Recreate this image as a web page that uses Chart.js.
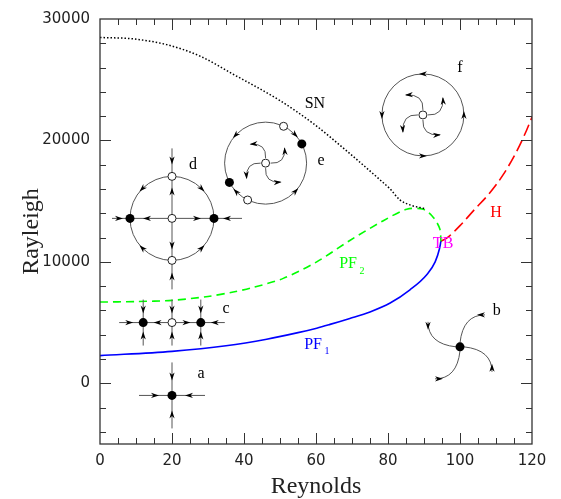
<!DOCTYPE html>
<html>
<head>
<meta charset="utf-8">
<script src="https://cdn.jsdelivr.net/npm/chart.js@4"></script>
<style>
html, body { margin: 0; padding: 0; background: #fff; }
</style>
</head>
<body>
<canvas id="chartAku" width="561" height="499"></canvas>
<script>
// kurva bifurkasi (Re, Ra)
let snRe = [0, 9.3, 18.5, 27.8, 37, 50, 59.2, 68.5, 77.8, 80.6, 83.3, 86.1, 88.9, 90.3];
let snRa = [28480, 28360, 27890, 26940, 25450, 23280, 21400, 19140, 16750, 16000, 15100, 14690, 14470, 14380];

let pf2Re = [0, 10, 20, 30, 37, 41.7, 50.9, 60.2, 69.4, 78.7, 85.2, 89.8, 92.6, 94.4, 94.7];
let pf2Ra = [6690, 6730, 6830, 7150, 7520, 7830, 8640, 10000, 11760, 13390, 14330, 14330, 13660, 12710, 11700];

let pf1Re = [0, 20, 35, 46.3, 55, 60.2, 63.9, 69.4, 75, 80.6, 86.1, 90.7, 93.1, 94.3, 94.7];
let pf1Ra = [2280, 2630, 3090, 3630, 4170, 4540, 4850, 5340, 5880, 6610, 7700, 8920, 10000, 11080, 11700];

let hRe = [94.7, 96.3, 100, 103.7, 108.3, 112, 115.7, 118.5, 120];
let hRa = [11700, 11950, 12980, 14200, 15690, 17180, 19080, 20840, 21930];

let xTicks = [0, 20, 40, 60, 80, 100, 120];
let yTicks = [0, 10000, 20000, 30000];

function pts(xs, ys) {
    return xs.map(function(x, i){ return {x: x, y: ys[i]}; });
}

// tulisan di dalam grafik
let tulisan = [
    {t: 'SN', re: 59.7, ra: 23010, c: '#000'},
    {t: 'H', re: 110, ra: 14070, c: '#ff0000'},
    {t: 'TB', re: 95.3, ra: 11460, c: '#ff00ff'},
    {t: 'a', re: 28.1, ra: 810, c: '#000'},
    {t: 'b', re: 110.2, ra: 5935, c: '#000'},
    {t: 'c', re: 35, ra: 6100, c: '#000'},
    {t: 'd', re: 25.8, ra: 17970, c: '#000'},
    {t: 'e', re: 61.4, ra: 18290, c: '#000'},
    {t: 'f', re: 100, ra: 26000, c: '#000'}
];
let subLabel = [
    {t: 'PF', s: '2', re: 68.9, ra: 9800, c: '#00ff00'},
    {t: 'PF', s: '1', re: 59.2, ra: 3170, c: '#0000ff'}
];

function garis(ctx, x1, y1, x2, y2) {
    ctx.beginPath(); ctx.moveTo(x1, y1); ctx.lineTo(x2, y2); ctx.stroke();
}
function panah(ctx, x, y, ang) {
    // x,y = tengah panah
    let L = 8, W = 2.6, c = Math.cos(ang), s = Math.sin(ang);
    let tx = x + c * L / 2, ty = y + s * L / 2;
    ctx.beginPath();
    ctx.moveTo(tx, ty);
    ctx.lineTo(tx - L * c - W * s, ty - L * s + W * c);
    ctx.lineTo(tx - L * c * 0.7, ty - L * s * 0.7);
    ctx.lineTo(tx - L * c + W * s, ty - L * s - W * c);
    ctx.closePath();
    ctx.fill();
}
function titik(ctx, x, y, penuh) {
    ctx.beginPath();
    if (penuh) {
        ctx.arc(x, y, 4.5, 0, Math.PI * 2);
        ctx.fillStyle = '#000'; ctx.fill();
    } else {
        ctx.arc(x, y, 4, 0, Math.PI * 2);
        ctx.fillStyle = '#fff'; ctx.fill();
        ctx.strokeStyle = '#222'; ctx.lineWidth = 1; ctx.stroke();
    }
    ctx.fillStyle = '#000';
}
function lingkaran(ctx, x, y, r) {
    ctx.beginPath(); ctx.arc(x, y, r, 0, Math.PI * 2); ctx.stroke();
}
function panahBusur(ctx, cx, cy, r, deg, dir) {
    let th = deg * Math.PI / 180;
    panah(ctx, cx + r * Math.cos(th), cy + r * Math.sin(th), th + dir * Math.PI / 2);
}
function putar(p, k) {
    let x = p[0], y = p[1];
    for (let i = 0; i < k; i++) { let t = x; x = -y; y = t; }
    return [x, y];
}
function lengan(ctx, cx, cy, bentuk, keluar) {
    for (let k = 0; k < 4; k++) {
        let p0 = putar(bentuk[0], k), p1 = putar(bentuk[1], k), p2 = putar(bentuk[2], k);
        ctx.beginPath();
        ctx.moveTo(cx + p0[0], cy + p0[1]);
        ctx.quadraticCurveTo(cx + p1[0], cy + p1[1], cx + p2[0], cy + p2[1]);
        ctx.stroke();
        let ang = Math.atan2(p2[1] - p1[1], p2[0] - p1[0]);
        if (keluar) {
            panah(ctx, cx + p2[0] - 3 * Math.cos(ang), cy + p2[1] - 3 * Math.sin(ang), ang);
        } else {
            panah(ctx, cx + p2[0] - 4 * Math.cos(ang), cy + p2[1] - 4 * Math.sin(ang), ang + Math.PI);
        }
    }
}

let sketsa = {
    id: 'sketsa',
    afterDatasetsDraw: function(chart) {
        let ctx = chart.ctx, xs = chart.scales.x, ys = chart.scales.y;
        let px = function(re){ return xs.getPixelForValue(re); };
        let py = function(ra){ return ys.getPixelForValue(ra); };
        let P = Math.PI;
        ctx.save();
        ctx.strokeStyle = '#555'; ctx.fillStyle = '#000'; ctx.lineWidth = 1;

        // a
        let ax = px(20), ay = py(-1000);
        garis(ctx, ax - 33, ay, ax + 33, ay); garis(ctx, ax, ay - 33, ax, ay + 33);
        panah(ctx, ax - 17, ay, 0); panah(ctx, ax + 17, ay, P);
        panah(ctx, ax, ay - 19, P / 2); panah(ctx, ax, ay + 19, -P / 2);
        titik(ctx, ax, ay, true);

        // c
        let cy = py(5000), c1 = px(12), c2 = px(20), c3 = px(28);
        ctx.strokeStyle = '#555';
        garis(ctx, c1 - 24, cy, c3 + 24, cy);
        [c1, c2, c3].forEach(function(x){
            garis(ctx, x, cy - 23, x, cy + 23);
            panah(ctx, x, cy - 13, P / 2); panah(ctx, x, cy + 13, -P / 2);
        });
        panah(ctx, (c1 + c2) / 2, cy, P); panah(ctx, (c2 + c3) / 2, cy, 0);
        panah(ctx, c1 - 14, cy, 0); panah(ctx, c3 + 14, cy, P);
        titik(ctx, c1, cy, true); titik(ctx, c2, cy, false); titik(ctx, c3, cy, true);

        // d
        let dx = px(20), dy = py(13580), R = 42;
        ctx.strokeStyle = '#555';
        lingkaran(ctx, dx, dy, R);
        garis(ctx, dx - 60, dy, dx + 70, dy); garis(ctx, dx, dy - 70, dx, dy + 71);
        panah(ctx, dx - 25, dy, P); panah(ctx, dx + 25, dy, 0);
        panah(ctx, dx - 53, dy, 0); panah(ctx, dx + 55, dy, P);
        panah(ctx, dx, dy - 58, P / 2); panah(ctx, dx, dy - 27, -P / 2);
        panah(ctx, dx, dy + 27, P / 2); panah(ctx, dx, dy + 58, -P / 2);
        panahBusur(ctx, dx, dy, R, -135, -1); panahBusur(ctx, dx, dy, R, -45, 1);
        panahBusur(ctx, dx, dy, R, 45, -1); panahBusur(ctx, dx, dy, R, 135, 1);
        titik(ctx, dx, dy, false); titik(ctx, dx, dy - R, false); titik(ctx, dx, dy + R, false);
        titik(ctx, dx - R, dy, true); titik(ctx, dx + R, dy, true);

        // e
        let ex = px(46), ey = py(18130), Re = 41;
        ctx.strokeStyle = '#555';
        lingkaran(ctx, ex, ey, Re);
        panahBusur(ctx, ex, ey, Re, -44, 1); panahBusur(ctx, ex, ey, Re, 136, 1);
        panahBusur(ctx, ex, ey, Re, -137, -1); panahBusur(ctx, ex, ey, Re, 43, -1);
        lengan(ctx, ex, ey, [[0, -5], [1, -20], [-15, -19]], true);
        [[-64, false], [116, false], [-28, true], [152, true]].forEach(function(q){
            let th = q[0] * P / 180;
            ctx.strokeStyle = '#555';
            titik(ctx, ex + Re * Math.cos(th), ey + Re * Math.sin(th), q[1]);
        });
        titik(ctx, ex, ey, false);

        // f
        let fx = px(89.7), fy = py(22100), Rf = 41;
        ctx.strokeStyle = '#555';
        lingkaran(ctx, fx, fy, Rf);
        [-90, 180, 90, 0].forEach(function(d){ panahBusur(ctx, fx, fy, Rf, d, -1); });
        lengan(ctx, fx, fy, [[0, -5], [1, -21], [-17, -20]], true);
        titik(ctx, fx, fy, false);

        // b
        let bx = px(100), by = py(3000);
        ctx.strokeStyle = '#555';
        lengan(ctx, bx, by, [[0, -4], [3, -32], [25, -32]], false);
        titik(ctx, bx, by, true);

        // tulisan
        ctx.textAlign = 'center'; ctx.textBaseline = 'middle';
        ctx.font = '16px "Liberation Serif"';
        tulisan.forEach(function(l){
            ctx.fillStyle = l.c;
            ctx.fillText(l.t, px(l.re), py(l.ra));
        });
        subLabel.forEach(function(l){
            let x = px(l.re), y = py(l.ra);
            ctx.fillStyle = l.c;
            ctx.font = '16px "Liberation Serif"';
            ctx.fillText(l.t, x, y);
            ctx.font = '10px "Liberation Serif"';
            ctx.fillText(l.s, x + 14, y + 7);
        });
        ctx.restore();
    }
};

// bingkai + tick ke dalam di keempat sisi
let bingkai = {
    id: 'bingkai',
    afterDraw: function(chart) {
        let ctx = chart.ctx, a = chart.chartArea, xs = chart.scales.x, ys = chart.scales.y;
        ctx.save();
        ctx.strokeStyle = '#333'; ctx.lineWidth = 1.3;
        ctx.strokeRect(a.left, a.top, a.right - a.left, a.bottom - a.top);
        ctx.lineWidth = 1;
        for (let v = 5; v < 120; v += 5) {
            let x = Math.round(xs.getPixelForValue(v)) + 0.5, len = v % 20 === 0 ? 11 : 6;
            garis(ctx, x, a.bottom, x, a.bottom - len);
            garis(ctx, x, a.top, x, a.top + len);
        }
        for (let v = -4000; v < 30000; v += 2000) {
            let y = Math.round(ys.getPixelForValue(v)) + 0.5, len = v % 10000 === 0 ? 11 : 6;
            garis(ctx, a.left, y, a.left + len, y);
            garis(ctx, a.right, y, a.right - len, y);
        }
        ctx.restore();
    }
};

let chartAkuh = document.getElementById('chartAku');
let chart = new Chart(chartAkuh, {
    type: 'line',
    data: {
        datasets: [
            {label: 'SN', data: pts(snRe, snRa), borderColor: '#000', borderWidth: 1.5, borderDash: [1.5, 2], cubicInterpolationMode: 'monotone'},
            {label: 'PF2', data: pts(pf2Re, pf2Ra), borderColor: '#00ff00', borderWidth: 1.6, borderDash: [8, 5], tension: 0.3},
            {label: 'PF1', data: pts(pf1Re, pf1Ra), borderColor: '#0000ff', borderWidth: 1.6, cubicInterpolationMode: 'monotone'},
            {label: 'H', data: pts(hRe, hRa), borderColor: '#ff0000', borderWidth: 1.6, borderDash: [12, 5], cubicInterpolationMode: 'monotone'}
        ]
    },
    options: {
        responsive: false,
        animation: false,
        devicePixelRatio: 1,
        layout: {padding: {top: 13, right: 29, left: 0, bottom: 0}},
        elements: {point: {radius: 0}},
        plugins: {legend: {display: false}, tooltip: {enabled: false}},
        scales: {
            x: {
                type: 'linear', min: 0, max: 120,
                afterFit: function(s){ s.height = 55; },
                afterBuildTicks: function(s){ s.ticks = xTicks.map(function(v){ return {value: v}; }); },
                grid: {display: false, drawTicks: false},
                border: {display: false},
                ticks: {padding: 8, color: '#222', maxRotation: 0, autoSkip: false,
                        font: {family: 'DejaVu Sans', size: 15},
                        callback: function(v){ return String(v); }},
                title: {display: true, text: 'Reynolds', color: '#222', padding: 0,
                        font: {family: 'Liberation Serif', size: 24, lineHeight: 1}}
            },
            y: {
                type: 'linear', min: -5000, max: 30000,
                afterFit: function(s){ s.width = 100; },
                afterBuildTicks: function(s){ s.ticks = yTicks.map(function(v){ return {value: v}; }); },
                grid: {display: false, drawTicks: false},
                border: {display: false},
                ticks: {padding: 10, color: '#222', autoSkip: false,
                        font: {family: 'DejaVu Sans', size: 15},
                        callback: function(v){ return String(v); }},
                title: {display: true, text: 'Rayleigh', color: '#222', padding: {top: 20, bottom: 0},
                        font: {family: 'Liberation Serif', size: 24, lineHeight: 1}}
            }
        }
    },
    plugins: [sketsa, bingkai]
});
</script>
</body>
</html>
